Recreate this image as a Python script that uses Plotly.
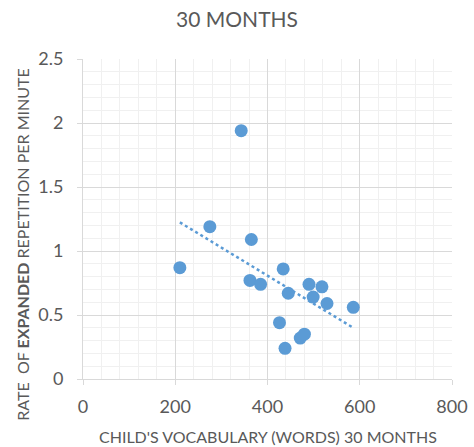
import numpy as np
import plotly.graph_objects as go

vocab = [210, 275, 365, 434, 362, 385, 445, 490, 518, 499, 529, 586, 426, 471, 480, 438, 343]
rate = [0.87, 1.19, 1.09, 0.86, 0.77, 0.74, 0.67, 0.74, 0.72, 0.64, 0.59, 0.56, 0.44, 0.32, 0.35, 0.24, 1.94]

x_ticks = [0, 200, 400, 600, 800]
y_ticks = [0, 0.5, 1, 1.5, 2, 2.5]
y_tick_text = ["0", "0.5", "1", "1.5", "2", "2.5"]

title = "30 MONTHS"
x_title = "CHILD'S VOCABULARY (WORDS) 30 MONTHS"
y_title = "RATE&nbsp; OF <b>EXPANDED</b> REPETITION PER MINUTE"

blue = "#5B9BD5"
grey = "#595959"
font = "Lato"

slope, intercept = np.polyfit(vocab, rate, 1)
tx = [min(vocab), max(vocab)]
ty = [slope * v + intercept for v in tx]

fig = go.Figure()
fig.add_trace(go.Scatter(x=tx, y=ty, mode="lines",
                         line=dict(color=blue, width=2.5, dash="dot"),
                         hoverinfo="skip", showlegend=False))
fig.add_trace(go.Scatter(x=vocab, y=rate, mode="markers",
                         marker=dict(color=blue, size=13, line=dict(width=0)),
                         showlegend=False))

fig.update_layout(
    width=474, height=447,
    margin=dict(l=83, r=22, t=59, b=68, autoexpand=False),
    paper_bgcolor="white", plot_bgcolor="white",
    font=dict(family=font, color=grey, size=18),
    title=dict(text=title, x=0.5, xanchor="center", y=0.956, yanchor="middle",
               font=dict(family=font, size=21, color=grey)),
    xaxis=dict(range=[0, 800], tickvals=x_ticks, showgrid=True, gridcolor="#d9d9d9",
               gridwidth=1, zeroline=False, showline=True, linecolor="#d9d9d9",
               ticks="outside", ticklen=5, tickcolor="#d9d9d9", ticklabelstandoff=6,
               automargin=False,
               tickfont=dict(size=18, color=grey), fixedrange=True,
               minor=dict(dtick=40, showgrid=True, gridcolor="#f0f0f0", gridwidth=1)),
    yaxis=dict(range=[0, 2.5], tickvals=y_ticks, ticktext=y_tick_text, showgrid=True,
               gridcolor="#d9d9d9", gridwidth=1, zeroline=False, showline=True,
               linecolor="#d9d9d9", ticks="outside", ticklen=5, tickcolor="#d9d9d9",
               ticklabelstandoff=10, automargin=False,
               tickfont=dict(size=18, color=grey), fixedrange=True,
               minor=dict(dtick=0.1, showgrid=True, gridcolor="#f0f0f0", gridwidth=1)),
    annotations=[
        dict(text=x_title, xref="paper", yref="paper", x=0.5, y=-0.181,
             xanchor="center", yanchor="middle", showarrow=False,
             font=dict(family=font, size=16, color=grey)),
        dict(text=y_title, xref="paper", yref="paper", x=-0.165, y=0.42,
             xanchor="center", yanchor="middle", textangle=-90, showarrow=False,
             font=dict(family=font, size=16, color=grey)),
    ],
)

fig.write_html("out.html", config={"displayModeBar": False},
               post_script="document.body.style.margin='0';document.body.style.overflow='hidden';")
